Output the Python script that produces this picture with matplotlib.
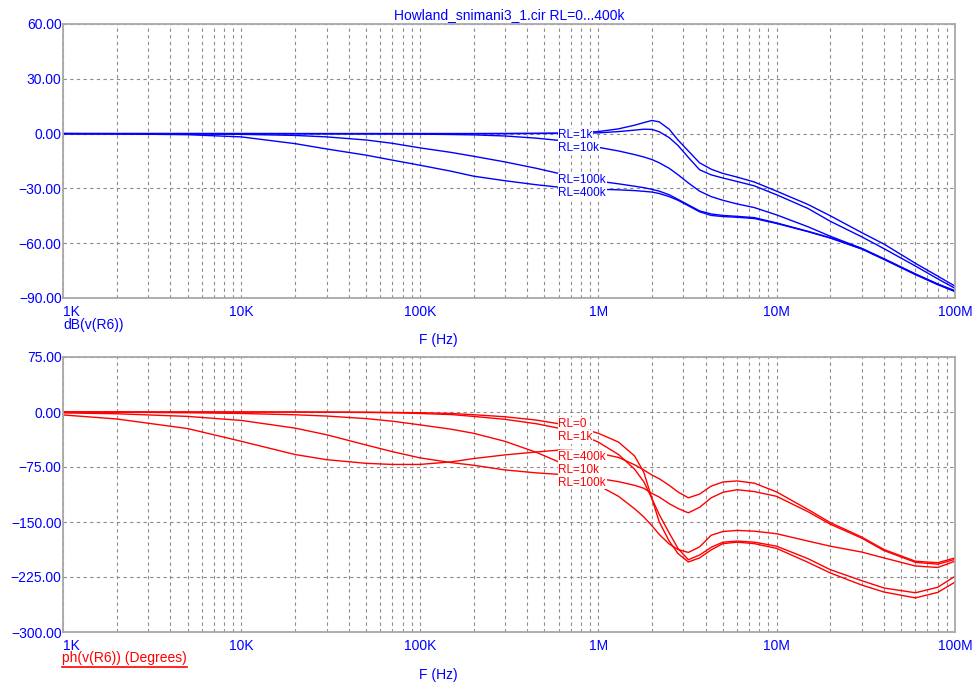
import matplotlib
matplotlib.use("Agg")
import matplotlib.pyplot as plt
from matplotlib.ticker import FixedLocator, LogLocator, FuncFormatter, NullFormatter
from matplotlib.lines import Line2D

plt.rcParams['font.family'] = ['Liberation Sans', 'DejaVu Sans']

# frequency points (Hz)
freq = [1e3, 2e3, 5e3, 1e4, 2e4, 3e4, 5e4, 7e4,
        1e5, 1.5e5, 2e5, 3e5, 4.5e5, 6e5, 8e5,
        1e6, 1.3e6, 1.6e6, 1.8e6, 2e6, 2.2e6, 2.5e6, 2.8e6, 3.2e6, 3.7e6, 4.3e6, 5e6, 6e6, 7.5e6,
        1e7, 1.5e7, 2e7, 3e7, 4e7, 6e7, 8e7, 1e8]

series = ["RL=0", "RL=1k", "RL=10k", "RL=100k", "RL=400k"]

# dB(v(R6))
db_rl0 = [0, 0, 0, 0, 0, 0, 0, 0,
          0, 0, 0, 0.05, 0.15, 0.3, 0.6,
          1.1, 2.6, 4.6, 6.0, 7.2, 6.4, 2.4, -3.5, -9.5, -16, -19.5, -21.8, -23.8, -26.5,
          -31.5, -38.8, -45, -54.2, -60.5, -71, -78, -83.5]
db_rl1k = [0, 0, 0, 0, 0, 0, 0, 0,
           0, 0, 0, 0, 0.05, 0.1, 0.2,
           0.4, 1.1, 1.9, 2.4, 2.3, 1.0, -2.2, -6.5, -13, -19.8, -22.6, -24.3, -26.2, -28.6,
           -33.5, -41, -48, -56.5, -63, -72.5, -79.5, -84.7]
db_rl10k = [0, 0, 0, 0, -0.05, -0.1, -0.15, -0.2,
            -0.3, -0.5, -0.7, -1.3, -2.5, -3.7, -5.6,
            -7.5, -9.5, -11.5, -12.8, -14.2, -16, -19, -22.5, -27, -31.5, -34.5, -36.5, -38.5, -40.5,
            -44.5, -51, -56.2, -62.8, -68.5, -76.8, -82.3, -86]
db_rl100k = [0, -0.05, -0.15, -0.4, -1.0, -1.8, -3.5, -5.3,
             -7.8, -10.3, -12.4, -15.5, -19, -21.8, -24.2,
             -26, -27.5, -28.8, -29.6, -30.5, -31.5, -33.5, -36, -39, -42.3, -44, -44.8, -45.3, -46,
             -48.9, -53.5, -57, -63, -68.7, -77, -82.5, -86.3]
db_rl400k = [0, -0.15, -0.6, -1.8, -5.5, -8.4, -11.8, -14.5,
             -17.3, -20.6, -23.3, -25.8, -28, -29.3, -30,
             -30.4, -30.8, -31.2, -31.6, -32, -32.8, -34.5, -36.5, -39.5, -42.8, -44.8, -45.4, -45.8, -46.5,
             -49.2, -53.7, -57.2, -63.2, -68.9, -77.2, -82.7, -86.5]

# ph(v(R6)) degrees
ph_rl0 = [0, 0, 0, 0, 0, -0.1, -0.3, -0.6,
          -1, -2, -3.7, -6.5, -11, -16, -22,
          -29, -41, -60, -82, -118, -150, -176, -193, -204.5, -199, -188, -179.5, -177.5, -179.5,
          -186, -205, -219.5, -236, -245.5, -253.5, -246, -232]
ph_rl1k = [0, 0, 0, 0, -0.1, -0.3, -0.6, -1.0,
           -2, -3.5, -6, -10, -16, -22, -31,
           -41, -58, -78, -95, -118, -140, -165, -186, -201.5, -195, -184.5, -177.5, -176, -177.5,
           -183, -200, -215, -230, -240, -246.5, -239, -224]
ph_rl10k = [0, -0.3, -1, -2, -3.8, -5.5, -9, -12.5,
            -17.5, -23.5, -29, -40, -55, -68, -86,
            -100, -115, -132, -143, -155, -167, -180, -187.5, -191.5, -184, -168, -163, -161.5, -162.5,
            -166, -176, -183, -191, -199, -210, -212, -203.5]
ph_rl100k = [-1.2, -2.4, -6, -11.5, -22, -31, -45, -54,
             -62.5, -69, -72.6, -79, -83, -85, -88,
             -90.5, -95, -100, -104, -111, -116, -125, -131.5, -137.5, -130, -117, -109.5, -106, -108.5,
             -115, -136, -153, -172, -189, -205, -207.5, -201]
ph_rl400k = [-4, -9.5, -22.6, -40, -58, -65, -70, -71.5,
             -71.5, -68, -63.5, -58.5, -54.5, -52, -53,
             -56, -62, -72, -79, -86, -91, -100, -109, -117, -112, -101, -95.5, -94, -97,
             -109, -133, -150.8, -170.5, -187.5, -203.5, -205.5, -199]

db_curves = [db_rl0, db_rl1k, db_rl10k, db_rl100k, db_rl400k]
ph_curves = [ph_rl0, ph_rl1k, ph_rl10k, ph_rl100k, ph_rl400k]

# curve labels (the RL=0 label of the dB plot is hidden in the original)
label_f = 5.98e5
db_label_names = ["RL=1k", "RL=10k", "RL=100k", "RL=400k"]
db_label_y = [-0.9, -7.9, -25.5, -32.3]
ph_label_names = ["RL=0", "RL=1k", "RL=10k", "RL=100k", "RL=400k"]
ph_label_y = [-16.5, -34.0, -79.0, -96.5, -61.6]

x_ticks = [1e3, 1e4, 1e5, 1e6, 1e7, 1e8]
x_ticklabels = ["1K", "10K", "100K", "1M", "10M", "100M"]
db_ticks = [-90, -60, -30, 0, 30, 60]
ph_ticks = [-300, -225, -150, -75, 0, 75]

W, H = 979, 684
fig = plt.figure(figsize=(W / 100, H / 100), dpi=100)
ax1 = fig.add_axes([63 / W, 1 - 298 / H, 892 / W, 274 / H])
ax2 = fig.add_axes([63 / W, 1 - 632 / H, 892 / W, 275 / H])

fmt = FuncFormatter(lambda v, p: ("%.2f" % v).replace("-", "\u2212"))


def style(ax, yticks):
    ax.set_xscale("log")
    ax.set_xlim(1e3, 1e8)
    ax.set_ylim(yticks[0], yticks[-1])
    ax.xaxis.set_major_locator(FixedLocator(x_ticks))
    ax.set_xticklabels(x_ticklabels)
    ax.xaxis.set_minor_locator(LogLocator(base=10, subs=range(2, 10), numticks=20))
    ax.xaxis.set_minor_formatter(NullFormatter())
    ax.set_yticks(yticks)
    ax.yaxis.set_major_formatter(fmt)
    ax.grid(True, which="both", axis="x", color="#8c8c8c", linestyle=(0, (3, 3)), lw=0.8)
    ax.grid(True, which="major", axis="y", color="#8c8c8c", linestyle=(0, (3, 3)), lw=0.8)
    ax.tick_params(which="both", length=0, labelcolor="blue", labelsize=10)
    ax.tick_params(axis="x", pad=5)
    ax.tick_params(axis="y", pad=1)
    for s in ax.spines.values():
        s.set_color("#a8a8a8")
        s.set_linewidth(1.3)
    ax.get_xticklabels()[0].set_horizontalalignment("left")


style(ax1, db_ticks)
style(ax2, ph_ticks)

for name, y in zip(series, db_curves):
    ax1.plot(freq, y, color="blue", lw=1.0)
for name, y in zip(series, ph_curves):
    ax2.plot(freq, y, color="red", lw=1.0)

for ax, names, ys, col in ((ax1, db_label_names, db_label_y, "blue"),
                           (ax2, ph_label_names, ph_label_y, "red")):
    for name, y in zip(names, ys):
        ax.text(label_f, y, name, color=col, fontsize=8.5, ha="left", va="center", zorder=5,
                bbox=dict(boxstyle="square,pad=0.06", fc="white", ec="none"))

fig.text(509 / W, 1 - 15 / H, "Howland_snimani3_1.cir RL=0...400k", color="blue",
         fontsize=10, ha="center", va="center")
fig.text(63 / W, 1 - 325 / H, "dB(v(R6))", color="blue", fontsize=10, ha="left", va="center")
fig.text(438 / W, 1 - 340 / H, "F (Hz)", color="blue", fontsize=10, ha="center", va="center")
ph_txt = fig.text(62 / W, 1 - 658 / H, "ph(v(R6)) (Degrees)", color="red", fontsize=10,
                  ha="left", va="center")
fig.text(438 / W, 1 - 675 / H, "F (Hz)", color="blue", fontsize=10, ha="center", va="center")

fig.canvas.draw()
bb = ph_txt.get_window_extent()
fig.add_artist(Line2D([bb.x0 / W, bb.x1 / W], [(bb.y0 - 1.5) / H] * 2,
                      transform=fig.transFigure, color="red", lw=1.2))

fig.savefig("out.png", dpi=100)
